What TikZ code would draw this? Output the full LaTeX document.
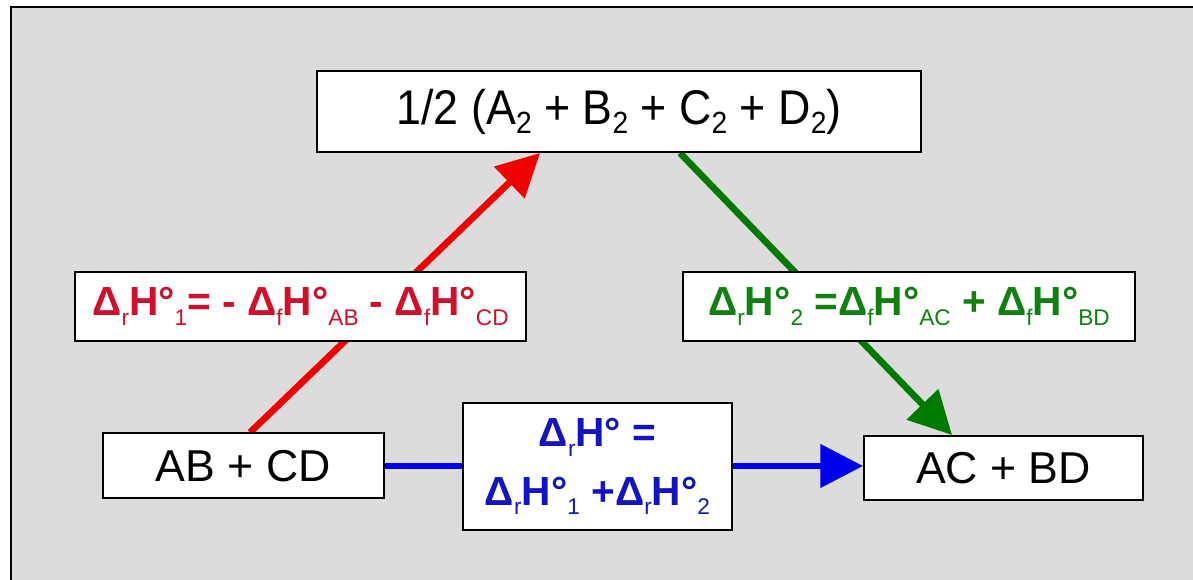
\documentclass[tikz,border=0pt]{standalone}
\usepackage{fontspec}
\setmainfont{Liberation Sans}
\newfontfamily\narrowf[FakeStretch=0.92]{Liberation Sans}
\usetikzlibrary{arrows.meta}
\pgfdeclarelayer{bg}
\pgfdeclarelayer{lines}
\pgfsetlayers{bg,lines,main}
\definecolor{bggray}{HTML}{DCDCDC}
\definecolor{linered}{HTML}{F00000}
\definecolor{txtred}{HTML}{D0102A}
\definecolor{linegreen}{HTML}{007A00}
\definecolor{txtgreen}{HTML}{108010}
\definecolor{lineblue}{HTML}{0000F0}
\definecolor{txtblue}{HTML}{1414C0}
\newcommand\sbx[1]{\raisebox{-0.45ex}{\fontsize{17pt}{17pt}\selectfont\mdseries #1}}
\newcommand\sbtwo[1]{\raisebox{-0.35ex}{\fontsize{23pt}{23pt}\selectfont #1}}
\begin{document}
\begin{tikzpicture}[x=0.75pt,y=-0.75pt,
  box/.style={draw=black,line width=1.5pt,fill=white,inner sep=0pt,align=center},
  chem/.style={box,font=\fontsize{33.5pt}{36pt}\selectfont},
  lbl/.style={box,font=\fontsize{30.5pt}{44pt}\selectfont\bfseries},
  conn/.style={line width=5pt,-{Triangle[length=32pt,width=32pt]}}]
\useasboundingbox (0,0) rectangle (1193,580);
\begin{pgfonlayer}{bg}
  \fill[bggray] (11,7) rectangle (1193,580);
  \draw[line width=1.8pt] (11,580) -- (11,7) -- (1193,7);
\end{pgfonlayer}
\node[box,minimum width=453pt,minimum height=60.75pt,font=\narrowf\fontsize{36.5pt}{40pt}\selectfont] (top) at (619,111.5)
  {1/2 (A\sbtwo{2} + B\sbtwo{2} + C\sbtwo{2} + D\sbtwo{2})};
\node[lbl,text=txtred,minimum width=338.25pt,minimum height=51.75pt] (lred) at (300.5,306.5)
  {Δ\sbx{r}H°\sbx{1}= - Δ\sbx{f}H°\sbx{AB} - Δ\sbx{f}H°\sbx{CD}};
\node[lbl,text=txtgreen,minimum width=339pt,minimum height=51.75pt] (lgreen) at (909,306.5)
  {Δ\sbx{r}H°\sbx{2} =Δ\sbx{f}H°\sbx{AC} + Δ\sbx{f}H°\sbx{BD}};
\node[lbl,text=txtblue,minimum width=201.75pt,minimum height=95.25pt] (lblue) at (597.5,466.5)
  {Δ\sbx{r}H° =\\Δ\sbx{r}H°\sbx{1} +Δ\sbx{r}H°\sbx{2}};
\node[chem,minimum width=210.75pt,minimum height=48.75pt] (ab) at (243.5,466) {AB + CD};
\node[chem,minimum width=209.25pt,minimum height=48pt] (ac) at (1003.5,468) {AC + BD};
\begin{pgfonlayer}{lines}
  \draw[conn,draw=linered,fill=linered] ([xshift=4.9pt]ab.north) -- ([xshift=-59.25pt]top.south);
  \draw[conn,draw=linegreen,fill=linegreen] ([xshift=45.75pt]top.south) -- ([xshift=-38.6pt]ac.north);
  \draw[conn,draw=lineblue,fill=lineblue,line width=4.2pt] (ab.east) -- (ab.east -| ac.west);
\end{pgfonlayer}
\end{tikzpicture}
\end{document}
